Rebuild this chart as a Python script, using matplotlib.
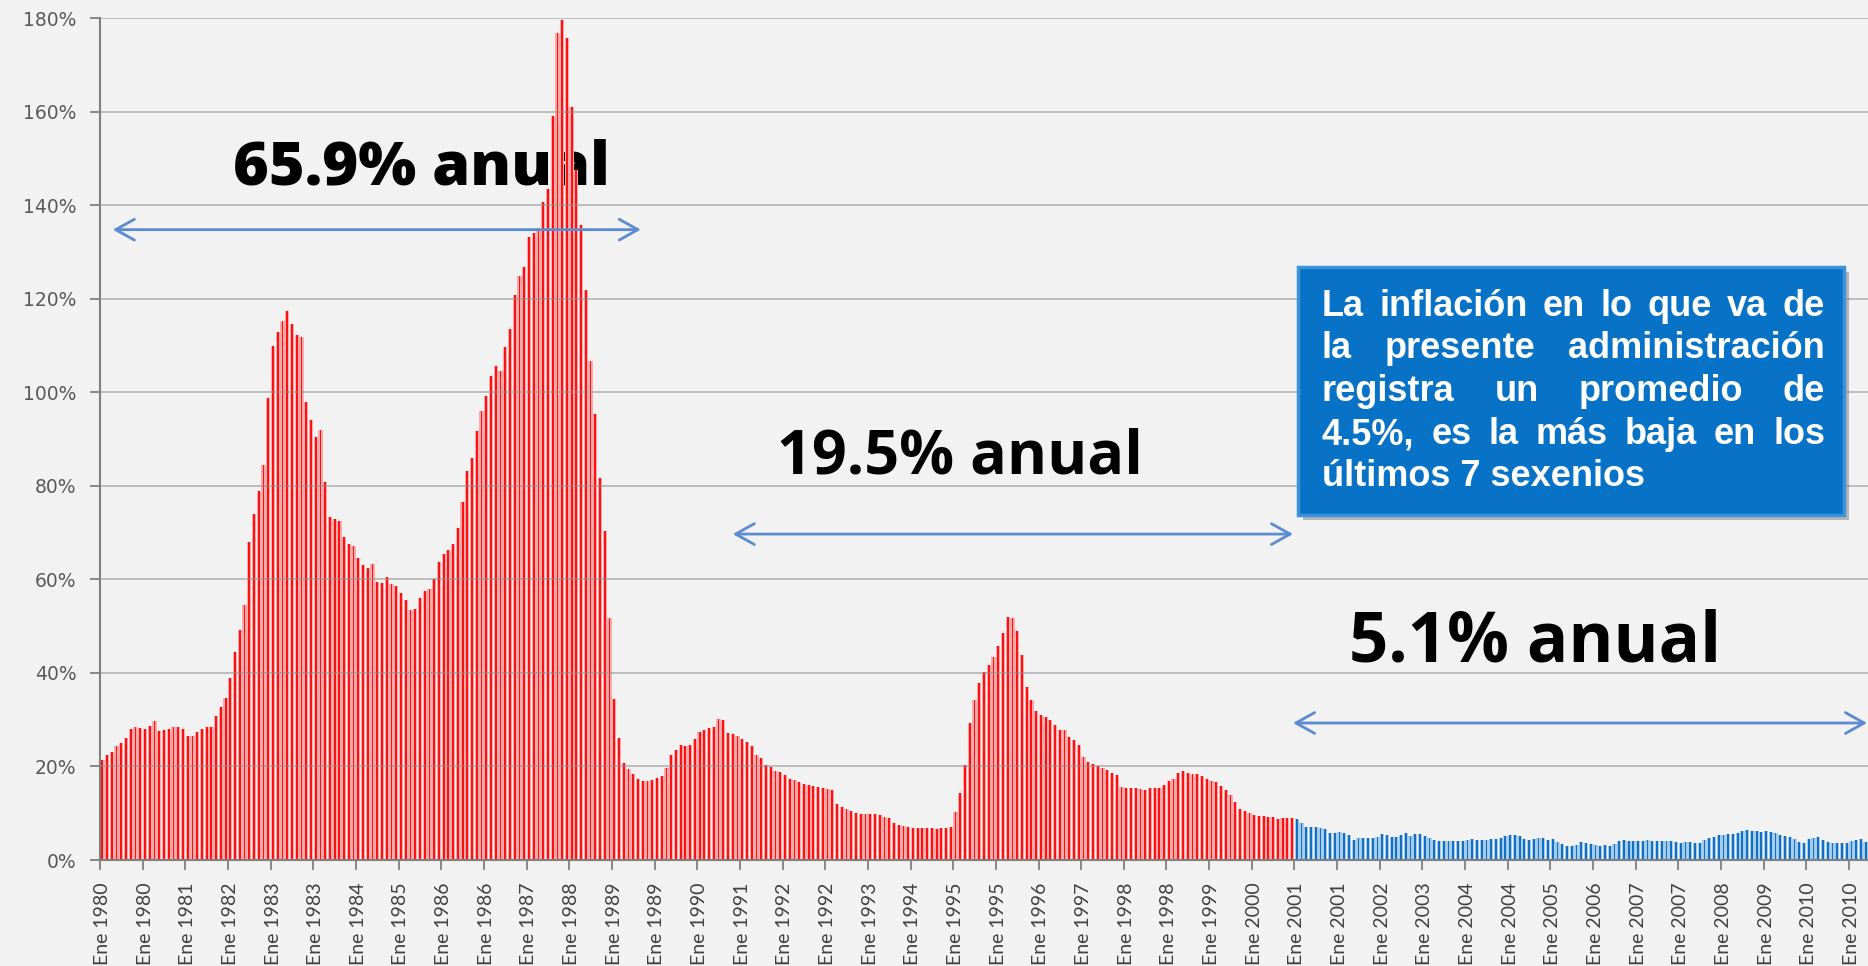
import matplotlib
matplotlib.use("Agg")
import matplotlib.pyplot as plt
import numpy as np
from matplotlib.patches import FancyBboxPatch

# inflacion anual (%), mensual, ene 1980 - dic 2000 (rojo)
infl_rojo = [
    21.4, 22.5, 23.0, 24.3, 25.0, 26.0, 28.0, 28.5, 28.2, 28.0, 28.7, 29.8,   # 1980
    27.6, 27.8, 28.0, 28.5, 28.5, 28.0, 26.5, 26.5, 27.3, 28.1, 28.5, 28.5,   # 1981
    30.9, 32.8, 34.7, 39.0, 44.5, 49.2, 54.5, 68.0, 74.0, 79.0, 84.5, 98.8,   # 1982
    110.0, 113.0, 115.3, 117.4, 114.6, 112.3, 111.9, 98.0, 94.0, 90.5, 91.9, 80.8,  # 1983
    73.3, 73.0, 72.4, 69.0, 67.5, 67.2, 64.5, 63.0, 62.5, 63.2, 59.4, 59.2,   # 1984
    60.5, 59.0, 58.7, 57.2, 55.5, 53.4, 53.6, 56.0, 57.5, 58.0, 60.0, 63.7,   # 1985
    65.5, 66.4, 67.6, 71.0, 76.5, 83.2, 86.0, 91.8, 96.0, 99.3, 103.5, 105.7,  # 1986
    104.5, 109.6, 113.5, 120.9, 124.9, 126.8, 133.3, 134.0, 135.0, 140.7, 143.6, 159.2,  # 1987
    176.8, 179.7, 175.7, 161.0, 147.5, 135.9, 122.0, 106.8, 95.3, 81.7, 70.4, 51.7,  # 1988
    34.5, 26.0, 20.8, 19.4, 18.3, 17.4, 16.9, 16.8, 17.2, 17.6, 17.9, 19.7,   # 1989
    22.5, 23.5, 24.5, 24.3, 24.6, 25.8, 27.3, 27.8, 28.3, 28.5, 30.2, 29.9,   # 1990
    27.2, 26.9, 26.6, 25.9, 25.3, 24.4, 22.5, 21.8, 20.3, 19.9, 19.1, 18.8,   # 1991
    18.1, 17.4, 17.1, 16.6, 16.3, 16.1, 15.8, 15.6, 15.5, 15.2, 15.0, 11.9,   # 1992
    11.3, 10.9, 10.4, 10.0, 9.9, 9.9, 9.9, 9.8, 9.6, 9.3, 8.9, 8.0,           # 1993
    7.5, 7.2, 7.1, 6.9, 6.9, 6.8, 6.8, 6.8, 6.7, 6.8, 6.9, 7.1,               # 1994
    10.2, 14.3, 20.4, 29.4, 34.2, 37.8, 40.1, 41.6, 43.5, 45.7, 48.5, 52.0,   # 1995
    51.7, 48.9, 43.8, 37.1, 34.2, 31.8, 31.0, 30.6, 30.0, 28.8, 27.8, 27.7,   # 1996
    26.4, 25.6, 24.5, 22.1, 21.0, 20.5, 20.1, 19.7, 19.3, 18.5, 18.2, 15.7,   # 1997
    15.3, 15.4, 15.3, 15.1, 15.0, 15.3, 15.4, 15.5, 16.0, 17.0, 17.4, 18.6,   # 1998
    19.0, 18.5, 18.3, 18.3, 18.0, 17.4, 16.9, 16.6, 15.8, 14.9, 13.9, 12.3,   # 1999
    11.0, 10.5, 10.1, 9.7, 9.5, 9.4, 9.1, 9.1, 8.8, 8.9, 8.9, 9.0,            # 2000
]

# ene 2001 - ene 2011 (azul)
infl_azul = [
    8.7, 8.0, 7.1, 7.1, 7.1, 6.9, 6.6, 5.8, 5.8, 6.0, 5.8, 5.4,   # 2001
    4.3, 4.6, 4.7, 4.7, 4.7, 4.9, 5.5, 5.3, 4.9, 4.9, 5.4, 5.7,   # 2002
    5.2, 5.5, 5.6, 5.2, 4.7, 4.3, 4.1, 4.0, 4.0, 4.0, 4.0, 4.0,   # 2003
    4.2, 4.5, 4.2, 4.2, 4.3, 4.4, 4.5, 4.8, 5.1, 5.4, 5.4, 5.2,   # 2004
    4.5, 4.3, 4.4, 4.6, 4.6, 4.3, 4.5, 3.9, 3.5, 3.1, 2.9, 3.3,   # 2005
    3.9, 3.7, 3.4, 3.2, 3.0, 3.2, 3.1, 3.5, 4.1, 4.3, 4.1, 4.1,   # 2006
    4.0, 4.1, 4.2, 4.0, 4.0, 4.0, 4.1, 4.0, 3.8, 3.7, 3.9, 3.8,   # 2007
    3.7, 3.7, 4.2, 4.6, 4.9, 5.3, 5.4, 5.6, 5.5, 5.8, 6.2, 6.5,   # 2008
    6.3, 6.2, 6.0, 6.2, 6.0, 5.7, 5.4, 5.1, 4.9, 4.5, 3.9, 3.6,   # 2009
    4.5, 4.8, 5.0, 4.3, 3.9, 3.7, 3.6, 3.7, 3.7, 4.0, 4.3, 4.4,   # 2010
    3.8,                                                          # 2011
]

# una etiqueta cada 9 meses
etiquetas_x = [
    "Ene 1980", "Ene 1980", "Ene 1981", "Ene 1982", "Ene 1983", "Ene 1983",
    "Ene 1984", "Ene 1985", "Ene 1986", "Ene 1986", "Ene 1987", "Ene 1988",
    "Ene 1989", "Ene 1989", "Ene 1990", "Ene 1991", "Ene 1992", "Ene 1992",
    "Ene 1993", "Ene 1994", "Ene 1995", "Ene 1995", "Ene 1996", "Ene 1997",
    "Ene 1998", "Ene 1998", "Ene 1999", "Ene 2000", "Ene 2001", "Ene 2001",
    "Ene 2002", "Ene 2003", "Ene 2004", "Ene 2004", "Ene 2005", "Ene 2006",
    "Ene 2007", "Ene 2007", "Ene 2008", "Ene 2009", "Ene 2010", "Ene 2010",
]
etiquetas_y = ["0%", "20%", "40%", "60%", "80%", "100%", "120%", "140%", "160%", "180%"]

periodos = ["65.9% anual", "19.5% anual", "5.1% anual"]
nota = ["La inflación en lo que va de",
        "la presente administración",
        "registra un promedio de",
        "4.5%, es la más baja en los",
        "últimos 7 sexenios"]

W, H = 1868, 966
BG = "#f2f2f2"

fig = plt.figure(figsize=(W / 100, H / 100), dpi=100, facecolor=BG)
ax = fig.add_axes([100 / W, (H - 860) / H, 1 - 100 / W, (860 - 18.3) / H])
ax.set_facecolor(BG)

x_rojo = np.arange(len(infl_rojo))
x_azul = np.arange(len(infl_rojo), len(infl_rojo) + len(infl_azul))

# barras finas: fondo claro + linea fuerte
ax.bar(x_rojo, infl_rojo, width=0.9, color="#ffaaaa", linewidth=0, zorder=2)
ax.bar(x_rojo, infl_rojo, width=0.38, color="#ff1010", linewidth=0, zorder=2)
ax.bar(x_azul, infl_azul, width=0.9, color="#a4caec", linewidth=0, zorder=2)
ax.bar(x_azul, infl_azul, width=0.38, color="#1270c2", linewidth=0, zorder=2)

n_total = len(infl_rojo) + len(infl_azul)
ax.set_xlim(-0.5, n_total - 0.5)
ax.set_ylim(0, 180)

# marcas cada 9 meses, etiqueta en el primer mes del grupo
pos_lab = np.arange(len(etiquetas_x)) * 9
ax.set_xticks(pos_lab - 0.5)
ax.set_xticklabels([])
ax.set_xticks(pos_lab, minor=True)
ax.set_xticklabels(etiquetas_x, minor=True, rotation=90,
                   fontsize=14, color="#404040", family="Lato", va="top")
ax.tick_params(axis="x", which="major", length=7, width=1.3, color="#7f7f7f", direction="out")
ax.tick_params(axis="x", which="minor", length=0, pad=16)

ax.set_yticks(np.arange(0, 181, 20))
ax.set_yticklabels(etiquetas_y, fontsize=13.5, color="#595959", family="DejaVu Sans")
ax.tick_params(axis="y", length=7, width=1.3, color="#7f7f7f", pad=10)

ax.grid(axis="y", color="#8a8a8a", alpha=0.55, linewidth=1.3, zorder=3)
ax.set_axisbelow(False)
for s in ["top", "right"]:
    ax.spines[s].set_visible(False)
for s in ["left", "bottom"]:
    ax.spines[s].set_color("#7f7f7f")
    ax.spines[s].set_linewidth(1.5)
    ax.spines[s].set_zorder(4)

# flechas de periodos
flecha = dict(arrowstyle="<->,head_length=0.45,head_width=0.25", color="#5b8bd0",
              lw=2.0, mutation_scale=30, shrinkA=0, shrinkB=0)
ax.annotate("", xy=(113.6, 134.8), xytext=(2.2, 134.8), arrowprops=flecha, zorder=5)
ax.annotate("", xy=(251.2, 69.7), xytext=(133.0, 69.7), arrowprops=flecha, zorder=5)
ax.annotate("", xy=(372.3, 29.3), xytext=(251.2, 29.3), arrowprops=flecha, zorder=5,
            annotation_clip=False)

ax.text(67.2, 144.4, periodos[0], ha="center", va="baseline", fontsize=44,
        fontweight="heavy", family="Open Sans", color="black", zorder=1)
ax.text(181.0, 82.6, periodos[1], ha="center", va="baseline", fontsize=44,
        fontweight="bold", family="Open Sans", color="black", zorder=5)
ax.text(302.2, 42.4, periodos[2], ha="center", va="baseline", fontsize=49.5,
        fontweight="bold", family="Open Sans", color="black", zorder=5)

# recuadro azul
bx0, bx1, by0, by1 = 1298, 1844, 267, 515
sombra = FancyBboxPatch((bx0 / W + 5 / W, 1 - by1 / H - 5 / H), (bx1 - bx0) / W, (by1 - by0) / H,
                        boxstyle="square,pad=0", transform=fig.transFigure,
                        facecolor="#7a7a7a", edgecolor="none", alpha=0.5, zorder=8)
caja = FancyBboxPatch((bx0 / W, 1 - by1 / H), (bx1 - bx0) / W, (by1 - by0) / H,
                      boxstyle="square,pad=0", transform=fig.transFigure,
                      facecolor="#0872c6", edgecolor="#3b93dd", linewidth=2.5, zorder=9)
fig.patches.extend([sombra, caja])

# texto justificado
tx0, tx1 = 1322, 1825
bases = [316, 358, 401, 444, 486]
fig.canvas.draw()
rend = fig.canvas.get_renderer()
for i, linea in enumerate(nota):
    fy = 1 - bases[i] / H
    if i == len(nota) - 1:
        fig.text(tx0 / W, fy, linea, color="white", fontsize=26, fontweight="bold",
                 family="Liberation Sans", va="baseline", ha="left", zorder=10)
        continue
    palabras = linea.split()
    objs = [fig.text(0, fy, p, color="white", fontsize=26, fontweight="bold",
                     family="Liberation Sans", va="baseline", ha="left", zorder=10)
            for p in palabras]
    anchos = [t.get_window_extent(rend).width for t in objs]
    hueco = (tx1 - tx0 - sum(anchos)) / (len(palabras) - 1)
    xx = tx0
    for t, a in zip(objs, anchos):
        t.set_x(xx / W)
        xx += a + hueco

fig.savefig("out.png", dpi=100, facecolor=BG)
